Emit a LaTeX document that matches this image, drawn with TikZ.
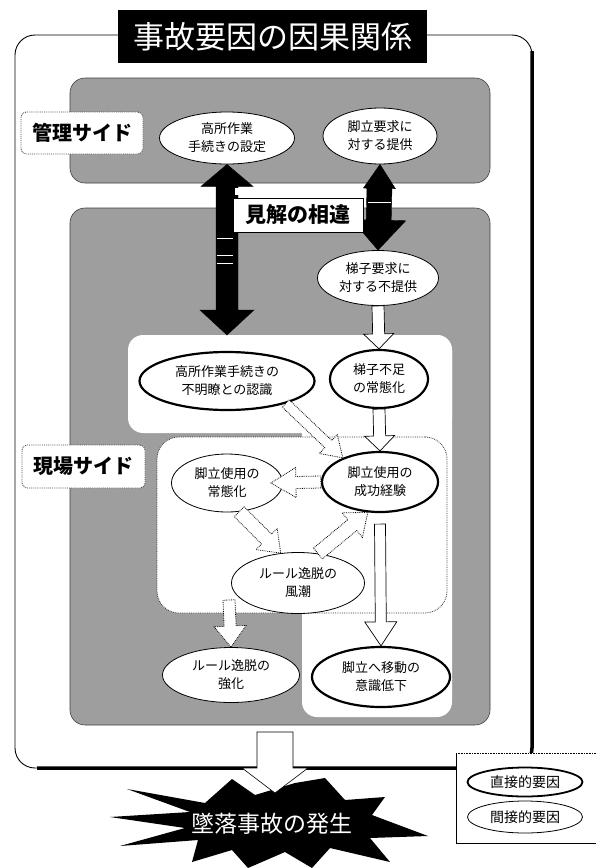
\documentclass[tikz,border=0pt]{standalone}
\usepackage{fontspec}
\setmainfont{Noto Sans CJK JP}
\usetikzlibrary{calc,shapes.geometric}

\newcommand\blockarrow[6]{% style, start, end, shaft half width, head half width, head length
  \coordinate (bas) at (#2);
  \coordinate (bat) at (#3);
  \coordinate (bah) at ($(bat)!#6!(bas)$);
  \draw[#1] ($(bas)!#4!90:(bat)$) -- ($(bah)!#4!90:(bat)$) -- ($(bah)!#5!90:(bat)$) -- (bat)
    -- ($(bah)!#5!-90:(bat)$) -- ($(bah)!#4!-90:(bat)$) -- ($(bas)!#4!-90:(bat)$) -- cycle;
}
\newcommand\dblarrow[8]{% style, start, end, shaft hw, head1 hw, head1 len, head2 hw, head2 len
  \coordinate (das) at (#2);
  \coordinate (dat) at (#3);
  \coordinate (dhs) at ($(das)!#6!(dat)$);
  \coordinate (dht) at ($(dat)!#8!(das)$);
  \draw[#1] (das) -- ($(dhs)!#5!90:(dat)$) -- ($(dhs)!#4!90:(dat)$) -- ($(dht)!#4!90:(dat)$)
    -- ($(dht)!#7!90:(dat)$) -- (dat) -- ($(dht)!#7!-90:(dat)$) -- ($(dht)!#4!-90:(dat)$)
    -- ($(dhs)!#4!-90:(dat)$) -- ($(dhs)!#5!-90:(dat)$) -- cycle;
}

\tikzset{
  panel/.style={rectangle, rounded corners=15pt, fill=black!38, draw=black!75, line width=0.6pt, inner sep=0pt, outer sep=0pt},
  whitearea/.style={rectangle, rounded corners=15pt, fill=white, inner sep=0pt, outer sep=0pt},
  ell/.style={ellipse, draw, fill=white, inner sep=0pt, align=center, font=\fontsize{13}{18}\selectfont, line width=0.8pt},
  ellthick/.style={ell, line width=2.2pt},
  sidelabel/.style={rectangle, rounded corners=5pt, draw=black!70, densely dotted, line width=0.9pt, fill=white, font=\bfseries\fontsize{20}{20}\selectfont, inner sep=0pt},
  blk/.style={fill=black, draw=black},
  wsolid/.style={fill=white, draw=black, line width=0.7pt},
  wdot/.style={fill=white, draw=black, densely dotted, line width=0.8pt},
}

\begin{document}
\begin{tikzpicture}[x=1pt,y=-1pt]
\useasboundingbox (0,0) rectangle (595,868);
\fill[white] (0,0) rectangle (595,868);

% outer frame
\node[rectangle, rounded corners=20pt, draw, line width=0.9pt, fill=white, minimum width=517pt, minimum height=733pt, inner sep=0pt, outer sep=0pt] (frame) at (273.5,401.5) {};
\draw[line width=3.5pt, rounded corners=20pt] ($(frame.north east)+(0,16)$) -- (frame.south east) -- ($(frame.south west)+(22,0)$);

% title
\node[fill=black, text=white, minimum width=309pt, minimum height=53pt, inner sep=0pt, font=\fontsize{31}{31}\selectfont] (title) at (272.5,36.5) {事故要因の因果関係};

% panels
\node[panel, minimum width=420pt, minimum height=105pt] (mgmt) at (280,130.5) {};
\node[panel, minimum width=420pt, minimum height=517pt] (field) at (280,466.5) {};
\node[whitearea, minimum width=324pt, minimum height=98pt] (wA) at (290,384) {};
\node[whitearea, minimum width=150pt, minimum height=382pt] (wB) at (377,526) {};
\node[whitearea, rounded corners=22pt, draw=black!80, densely dotted, line width=0.8pt, minimum width=290pt, minimum height=176pt] (loop) at (302,525) {};

% ellipses
\node[ell, minimum width=135pt, minimum height=52pt] (e1) at (227,138) {高所作業\\手続きの設定};
\node[ell, minimum width=114pt, minimum height=56pt] (e2) at (380,136) {脚立要求に\\対する提供};
\node[ell, minimum width=121pt, minimum height=55pt] (e3) at (378,278) {梯子要求に\\対する不提供};
\node[ellthick, minimum width=175pt, minimum height=58pt] (e4) at (227,381) {高所作業手続きの\\不明瞭との認識};
\node[ellthick, minimum width=98pt, minimum height=58pt] (e5) at (379,379) {梯子不足\\の常態化};
\node[ell, minimum width=111pt, minimum height=58pt] (e6) at (227,483) {脚立使用の\\常態化};
\node[ellthick, minimum width=116pt, minimum height=60pt] (e7) at (380,482) {脚立使用の\\成功経験};
\node[ell, minimum width=133pt, minimum height=61pt] (e8) at (298,583) {ルール逸脱の\\風潮};
\node[ell, minimum width=137pt, minimum height=55pt] (e9) at (231,675) {ルール逸脱の\\強化};
\node[ellthick, minimum width=138pt, minimum height=60pt] (e10) at (381,677) {脚立へ移動の\\意識低下};

% black double arrows
\dblarrow{blk}{e1.south}{wA.north -| e1}{11pt}{26pt}{22pt}{27pt}{25pt}
\dblarrow{blk}{e2.south}{e3.north}{12.5pt}{16pt}{24pt}{27pt}{30pt}
\fill[white] (235,188) rectangle (363,195);
\node[draw, fill=white, line width=1pt, minimum width=130pt, minimum height=34pt, inner sep=0pt, font=\bfseries\fontsize{21}{21}\selectfont] (kenkai) at (298,215) {見解の相違};
\draw[white, line width=1pt] (217,238) -- (233,238) (217,255) -- (233,255) (217,263) -- (233,263) (368,202) -- (391,202);

% white block arrows
\blockarrow{wsolid}{e3.south}{e5.north}{6pt}{15pt}{15pt}
\blockarrow{wsolid}{e5.south}{e7.north}{6pt}{15pt}{15pt}
\blockarrow{wsolid}{$(e7.south)+(0,11)$}{e10.north}{5.5pt}{16pt}{24pt}
\blockarrow{wdot}{e4.-21}{e7.147}{5pt}{13pt}{20pt}
\blockarrow{wdot}{e7.west}{$(e6.east)+(-12,0)$}{6pt}{15pt}{25pt}
\blockarrow{wdot}{e6.-67}{e8.120}{7pt}{15pt}{20pt}
\blockarrow{wdot}{e8.56}{e7.248}{7pt}{16pt}{20pt}
\coordinate (lo) at ($(loop.south west)+(72,-13)$);
\blockarrow{wdot}{lo}{e9.north}{6pt}{16pt}{21pt}

% side labels
\node[sidelabel, minimum width=122pt, minimum height=42pt] (kanri) at (82,133) {管理サイド};
\node[sidelabel, minimum width=123pt, minimum height=43pt] (genba) at (83.5,466.5) {現場サイド};

% accident star
\fill[black] (127,789) -- (205,803) -- (232,779) -- (255,795) -- (295,783) -- (325,778) -- (345,800)
  -- (385,797) -- (372,815) -- (428,836) -- (370,838) -- (390,862) -- (330,848) -- (312,868)
  -- (285,852) -- (248,868) -- (232,850) -- (192,862) -- (198,840) -- (120,846) -- (185,828)
  -- (110,817) -- (190,812) -- cycle;
\coordinate (bt) at ($(field.south)+(-5,7)$);
\coordinate (acctop) at (275,793);
\blockarrow{wsolid, line width=0.6pt}{bt}{acctop}{18pt}{33pt}{25pt}
\node[text=white, font=\fontsize{23}{23}\selectfont, inner sep=0pt] (acc) at (272,824) {墜落事故の発生};

% legend
\node[fill=white, minimum width=145pt, minimum height=90pt, inner sep=0pt, outer sep=0pt, anchor=north west] (legend) at (456,753) {};
\draw[densely dotted, line width=0.6pt] (legend.north west) -- (legend.north east);
\draw[line width=0.6pt] (legend.north west) -- (legend.south west) -- (legend.south east);
\node[ellthick, line width=1.8pt, minimum width=115pt, minimum height=29pt, font=\fontsize{14}{14}\selectfont] (l1) at (525,782) {直接的要因};
\node[ell, minimum width=115pt, minimum height=32pt, font=\fontsize{14}{14}\selectfont] (l2) at (525,817) {間接的要因};
\end{tikzpicture}
\end{document}
